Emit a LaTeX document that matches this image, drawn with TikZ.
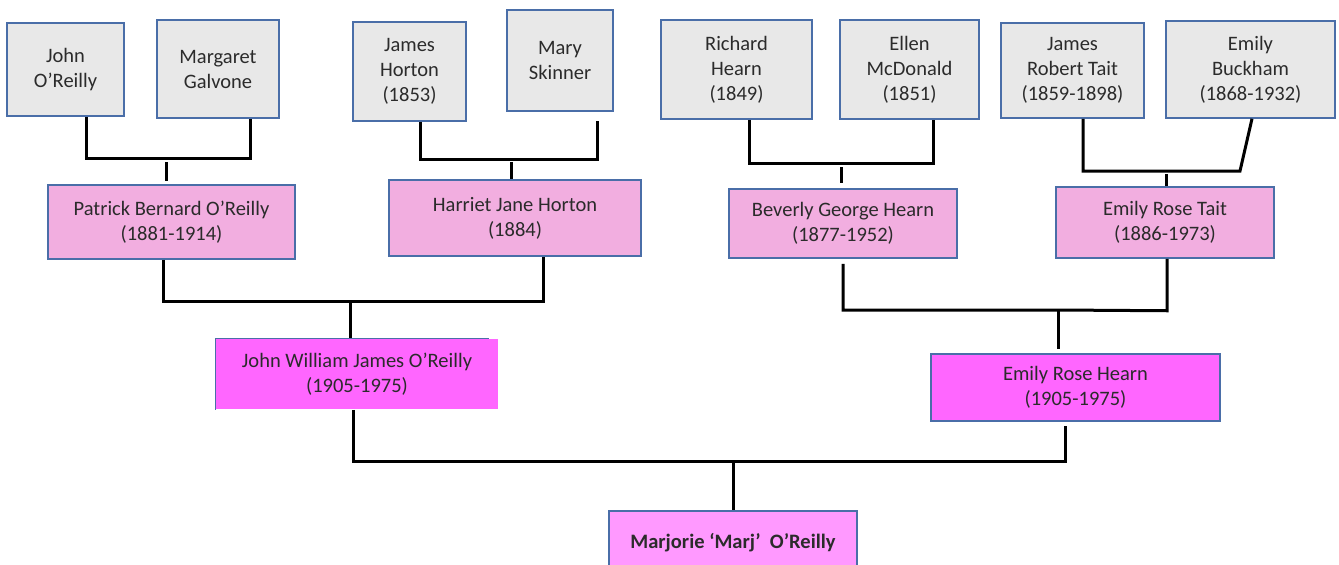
\documentclass[tikz,border=0pt]{standalone}
\usepackage{fontspec}
\setmainfont{Carlito}
\definecolor{boxblue}{HTML}{4A6EA8}
\definecolor{greyfill}{HTML}{E8E8E8}
\definecolor{pinkfill}{HTML}{F2AEE0}
\definecolor{magfill}{HTML}{FF66FF}
\definecolor{marjfill}{HTML}{FF99FF}
\definecolor{inktext}{HTML}{2B2B2B}
\tikzset{
    person/.style={draw=boxblue, line width=1.5pt, fill=greyfill, align=center, inner sep=0pt,
        text=inktext, font=\fontsize{20.5}{25}\selectfont},
    parent/.style={person, fill=pinkfill},
    child/.style={person, fill=magfill},
    link/.style={line width=3pt}
}
\begin{document}
\begin{tikzpicture}[x=1pt, y=-1pt]
    \useasboundingbox (0,0) rectangle (1339,565);
    \node[person, minimum width=117, minimum height=93] (johnor) at (65.5,69.5) {John\\O'Reilly};
    \node[person, minimum width=122, minimum height=98] (galvone) at (218,69) {Margaret\\Galvone};
    \node[person, minimum width=113, minimum height=99] (jhorton) at (409.5,71.5) {James\\Horton\\(1853)};
    \node[person, minimum width=106, minimum height=101] (skinner) at (560,60.5) {Mary\\Skinner};
    \node[person, minimum width=151, minimum height=99] (rhearn) at (736.5,69.5) {Richard\\Hearn\\(1849)};
    \node[person, minimum width=139, minimum height=99] (mcdonald) at (909.5,69.5) {Ellen\\McDonald\\(1851)};
    \node[person, minimum width=143, minimum height=95] (jrtait) at (1072.5,70.5) {James\\Robert Tait\\(1859-1898)};
    \node[person, minimum width=169, minimum height=97] (buckham) at (1250.5,69.5) {Emily\\Buckham\\(1868-1932)};

    \node[parent, minimum width=247, minimum height=74] (patrick) at (171.5,222) {Patrick Bernard O'Reilly\\(1881-1914)};
    \node[parent, minimum width=252, minimum height=76] (harriet) at (515,218) {Harriet Jane Horton\\(1884)};
    \node[parent, minimum width=228, minimum height=69] (beverly) at (843,223.5) {Beverly George Hearn\\(1877-1952)};
    \node[parent, minimum width=218, minimum height=71] (ertait) at (1165,222.5) {Emily Rose Tait\\(1886-1973)};

    \node[child, draw=none, minimum width=282, minimum height=70] (jwor) at (357,374) {John William James O'Reilly\\(1905-1975)};
    \draw[boxblue, line width=1.5pt] (jwor.south west) -- (jwor.north west) -- ([xshift=-10]jwor.north east);
    \node[child, minimum width=289, minimum height=67] (erhearn) at (1075.5,387.5) {Emily Rose Hearn\\(1905-1975)};

    \node[person, fill=marjfill, minimum width=248, minimum height=64, font=\fontsize{20.5}{25}\selectfont\bfseries] (marj) at (733,543) {Marjorie `Marj'~ O'Reilly};

    \coordinate (bar1) at (166,158);
    \coordinate (bar2) at (511,159);
    \coordinate (bar3) at (841,163);
    \coordinate (bar4) at (1166,171);
    \coordinate (bar5) at (350,301);
    \coordinate (bar6) at (1058,310);
    \coordinate (bar7) at (733,461);

    \draw[link] ([xshift=20.5]johnor.south) |- (bar1) -| ([xshift=32]galvone.south);
    \draw[link] ([yshift=-4]bar1) -- ([xshift=-5.5,yshift=3]patrick.north);
    \draw[link] ([xshift=10.5]jhorton.south) |- (bar2) -| ([xshift=37,yshift=-9]skinner.south);
    \draw[link] ([yshift=-3]bar2) -- ([xshift=-4]harriet.north);
    \draw[link] ([xshift=12.5]rhearn.south) |- (bar3) -| ([xshift=23.5]mcdonald.south);
    \draw[link] ([yshift=-4]bar3) -- ([xshift=-2,yshift=5]beverly.north);
    \draw[link] ([xshift=10.5]jrtait.south) |- (bar4) -- ++(74,0) -- ([xshift=1.5]buckham.south);
    \draw[link] ([yshift=-3]bar4) -- ([xshift=1]ertait.north);
    \draw[link] ([xshift=-8.5]patrick.south) |- (bar5) -| ([xshift=28]harriet.south);
    \draw[link] (bar5) -- ([xshift=-7]jwor.north);
    \draw[link] ([yshift=-5]beverly.south) |- (bar6) -- ([xshift=2,yshift=-52]ertait.south) -- ([xshift=2]ertait.south);
    \draw[link] (bar6) -- ([xshift=-17.5,yshift=4]erhearn.north);
    \draw[link] ([xshift=-4]jwor.south) |- (bar7) -| ([xshift=-10.5,yshift=-4]erhearn.south);
    \draw[link] (bar7) -- (marj.north);
\end{tikzpicture}
\end{document}
